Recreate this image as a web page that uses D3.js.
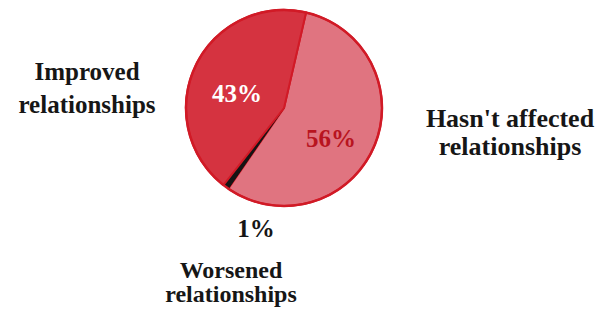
<!DOCTYPE html>
<html lang="en">
<head>
  <meta charset="UTF-8">
  <title>Relationships</title>
  <script src="https://cdn.jsdelivr.net/npm/d3@7"></script>
  <style>
  html, body { margin: 0; padding: 0; background: #fff; }
  svg { display: block; }
  </style>
</head>
<body>
  <div id="chart"></div>
  <script>
  // data
  const categories = ["Hasn't affected relationships", "Worsened relationships", "Improved relationships"];
  const values = [56, 1, 43];
  const fills = ['#e07480', '#141414', '#d53340'];

  const width = 599, height = 311;
  const cx = 284, cy = 108, r = 98;
  const FONT = "'Liberation Serif', 'DejaVu Serif', 'Times New Roman', serif";

  const svg = d3.select('#chart').append('svg')
    .attr('width', width).attr('height', height);

  const startDeg = 13;
  const pie = d3.pie().sort(null)
    .startAngle(startDeg * Math.PI / 180)
    .endAngle((startDeg + 360) * Math.PI / 180)
    .value(d => d);
  const arcs = pie(values);
  const arc = d3.arc().innerRadius(0).outerRadius(r);

  const g = svg.append('g').attr('transform', `translate(${cx},${cy})`);
  g.selectAll('path.slice')
    .data(arcs)
    .join('path')
      .attr('class', 'slice')
      .attr('d', arc)
      .attr('fill', (d, i) => fills[i])
      .attr('stroke', (d, i) => i === 1 ? '#141414' : '#d11a26')
      .attr('stroke-width', (d, i) => i === 1 ? 1 : 2)
      .attr('stroke-linejoin', 'round');
  // outer rim
  g.append('circle').attr('r', r).attr('fill', 'none')
    .attr('stroke', '#d11a26').attr('stroke-width', 2.5);

  function label(parent, x, y, lines, size, lh, color) {
    const t = parent.append('text')
      .attr('font-family', FONT)
      .attr('font-weight', 'bold')
      .attr('fill', color || '#161616')
      .attr('text-anchor', 'middle')
      .attr('font-size', size);
    lines.forEach((s, i) => {
      t.append('tspan').attr('x', x).attr('y', y + i * lh).text(s);
    });
  }

  // percentages inside slices
  label(g, 331 - cx, 147 - cy, [values[0] + '%'], 25, 0, '#b8141f');
  label(g, 237 - cx, 102 - cy, [values[2] + '%'], 25, 0, '#ffffff');

  // outside labels
  label(svg, 87, 80, ['Improved', 'relationships'], 25, 33);
  label(svg, 510, 127, ["Hasn't affected", 'relationships'], 26, 28);
  label(svg, 256, 237, [values[1] + '%'], 25, 0);
  label(svg, 231, 278, ['Worsened', 'relationships'], 24, 24);
  </script>
</body>
</html>
